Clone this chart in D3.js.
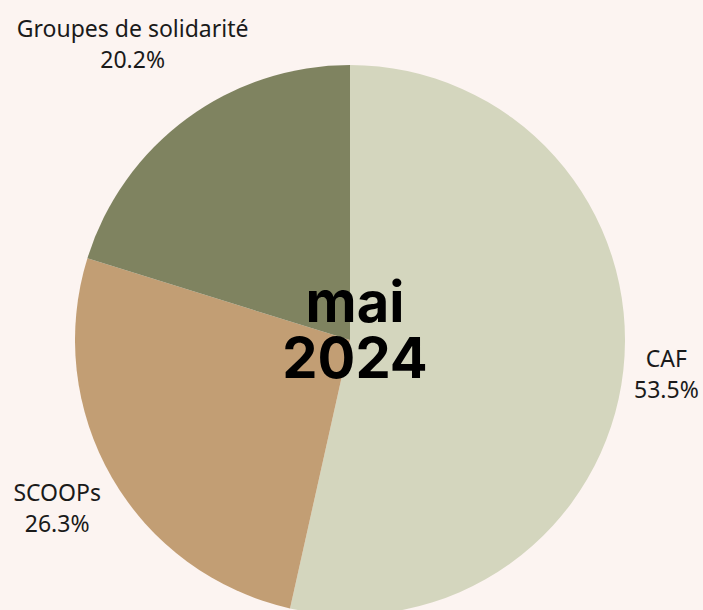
<!DOCTYPE html>
<html>
<head>
<meta charset="utf-8">
<script src="https://cdn.jsdelivr.net/npm/d3@7"></script>
<style>
  html, body { margin: 0; padding: 0; background: #fcf4f1; }
  svg { display: block; }
  .lbl { font-family: "Noto Sans", "Open Sans", sans-serif; font-size: 23px; fill: #1a1a1a; }
  .title { font-family: Inter, "Noto Sans", sans-serif; font-weight: bold; font-size: 56px; fill: #000; }
</style>
</head>
<body>
<svg id="chart"></svg>
<script>
  // data
  var categories = ["CAF", "SCOOPs", "Groupes de solidarité"];
  var shares = [53.5, 26.3, 20.2];
  var colors = ["#d4d6be", "#c29e74", "#7f8360"];
  var titleLines = ["mai", "2024"];

  var width = 703, height = 610;
  var cx = 350, cy = 340, radius = 275;
  var gap = 9; // distance between circle and label box

  var svg = d3.select("#chart")
              .attr("width", width)
              .attr("height", height);

  var chart = svg.append("g")
                 .attr("transform", "translate(" + cx + "," + cy + ")");

  var pie = d3.pie().sort(null).value(function(d) { return d.value; });
  var arc = d3.arc().innerRadius(0).outerRadius(radius);

  var rows = categories.map(function(c, i) { return { name: c, value: shares[i], color: colors[i] }; });
  var arcs = pie(rows);

  chart.selectAll("path.slice")
       .data(arcs)
       .enter().append("path")
       .attr("class", "slice")
       .attr("d", arc)
       .attr("fill", function(d) { return d.data.color; });

  /*
    Labels sit on the mid angle of each slice, pushed out until the text box
    clears the circle by a small gap.
  */
  var labels = chart.selectAll("g.label")
                    .data(arcs)
                    .enter().append("g")
                    .attr("class", "label");

  labels.each(function(d) {
    var g = d3.select(this);
    var t = g.append("text").attr("class", "lbl").attr("text-anchor", "middle");
    t.append("tspan").attr("x", 0).attr("y", -8).text(d.data.name);
    t.append("tspan").attr("x", 0).attr("y", 23).text(d.data.value.toFixed(1) + "%");

    var bb = t.node().getBBox();
    var mid = (d.startAngle + d.endAngle) / 2;
    var ux = Math.sin(mid), uy = -Math.cos(mid);

    function boxDist(dist) {
      var x0 = ux * dist + bb.x, x1 = x0 + bb.width;
      var y0 = uy * dist + bb.y, y1 = y0 + bb.height;
      var nx = Math.max(x0, Math.min(0, x1));
      var ny = Math.max(y0, Math.min(0, y1));
      return Math.sqrt(nx * nx + ny * ny);
    }

    var lo = 0, hi = radius * 3;
    for (var k = 0; k < 40; k++) {
      var m = (lo + hi) / 2;
      if (boxDist(m) < radius + gap) lo = m; else hi = m;
    }
    g.attr("transform", "translate(" + (ux * hi) + "," + (uy * hi) + ")");
  });

  var title = chart.append("text")
                   .attr("class", "title")
                   .attr("text-anchor", "middle");

  title.selectAll("tspan")
       .data(titleLines)
       .enter().append("tspan")
       .attr("x", 5)
       .attr("y", function(d, i) { return -18 + i * 56; })
       .text(function(d) { return d; });
</script>
</body>
</html>
